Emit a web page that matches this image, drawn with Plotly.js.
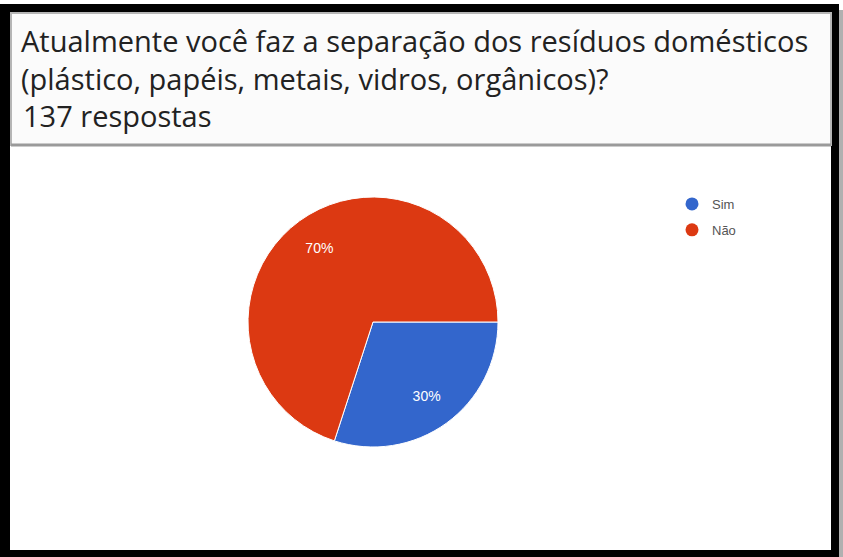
<!DOCTYPE html>
<html><head><meta charset="utf-8">
<script src="https://cdn.plot.ly/plotly-3.0.1.min.js"></script>
<style>html,body{margin:0;padding:0;background:#fff;} #chart{width:843px;height:557px;}</style>
</head><body><div id="chart"></div>
<script>
// ---- data ----
const questionLines = ["Atualmente você faz a separação dos resíduos domésticos", "(plástico, papéis, metais, vidros, orgânicos)?"];
const responsesLabel = "137 respostas";
const categories = ["Sim", "Não"];
const percentages = [30, 70];
const sliceColors = ["#3366cc", "#dc3912"];

// ---- layout helpers (pixel -> paper) ----
const W = 843, H = 557;
const px = x => x / W;
const py = y => 1 - y / H;
const pieDomain = {x: [px(248), px(498)], y: [py(447), py(197)]};

// full pie: slices with white separators
const pieTrace = {
  type: 'pie',
  labels: categories,
  values: percentages,
  marker: {colors: sliceColors, line: {color: '#ffffff', width: 1}},
  sort: false, direction: 'clockwise', rotation: 90,
  textinfo: 'none',
  showlegend: false,
  hoverinfo: 'label+percent',
  domain: pieDomain
};
// transparent ring on top that carries the percentage labels (places them toward the rim)
const labelRing = {
  type: 'pie',
  labels: categories,
  values: percentages,
  hole: 0.46,
  marker: {colors: ['rgba(0,0,0,0)', 'rgba(0,0,0,0)'], line: {width: 0}},
  sort: false, direction: 'clockwise', rotation: 90,
  textinfo: 'percent', textposition: 'inside', insidetextorientation: 'horizontal',
  textfont: {family: 'Liberation Sans, Arial, sans-serif', size: 14, color: '#ffffff'},
  showlegend: false, hoverinfo: 'skip',
  domain: pieDomain
};

const legendTraces = categories.map((c, i) => ({
  type: 'scatter', x: [null], y: [null], mode: 'markers', name: c,
  legendgroup: c, marker: {color: sliceColors[i], size: 13}, hoverinfo: 'skip'
}));

const textFont = {family: 'Open Sans, sans-serif', size: 29, color: '#222222'};

const layout = {
  width: W, height: H,
  margin: {l: 0, r: 0, t: 0, b: 0},
  paper_bgcolor: '#ffffff',
  plot_bgcolor: 'rgba(0,0,0,0)',
  xaxis: {visible: false},
  yaxis: {visible: false},
  title: {
    text: questionLines.join('<br>'),
    font: textFont,
    x: px(21), xref: 'paper', xanchor: 'left',
    y: 1 - 52 / H, yref: 'container', yanchor: 'middle'
  },
  annotations: [{
    text: responsesLabel, showarrow: false,
    xref: 'paper', yref: 'paper', x: px(21), xanchor: 'left', y: py(115), yanchor: 'middle',
    font: textFont
  }],
  showlegend: true,
  legend: {
    x: px(672), xanchor: 'left', y: py(189), yanchor: 'top',
    font: {family: 'Liberation Sans, Arial, sans-serif', size: 13, color: '#555555'},
    bgcolor: 'rgba(0,0,0,0)', traceorder: 'grouped', tracegroupgap: 6, itemwidth: 30
  },
  shapes: [
    {type: 'rect', xref: 'paper', yref: 'paper', x0: px(839), x1: 1, y0: 0, y1: py(10),
     fillcolor: '#b0b0b0', line: {width: 0}, layer: 'below'},
    {type: 'rect', xref: 'paper', yref: 'paper', x0: 0, x1: px(839), y0: 0, y1: py(4),
     fillcolor: '#000000', line: {width: 0}, layer: 'below'},
    {type: 'rect', xref: 'paper', yref: 'paper', x0: px(10), x1: px(831), y0: py(550), y1: py(12),
     fillcolor: '#ffffff', line: {width: 0}, layer: 'below'},
    {type: 'rect', xref: 'paper', yref: 'paper', x0: px(11), x1: px(831), y0: py(145), y1: py(13),
     fillcolor: '#fbfbfb', line: {color: '#b5b5b5', width: 2}, layer: 'below'},
    {type: 'line', xref: 'paper', yref: 'paper', x0: px(11), x1: px(831), y0: py(145), y1: py(145),
     line: {color: '#9a9a9a', width: 3}, layer: 'below'}
  ]
};

Plotly.newPlot('chart', [pieTrace, labelRing, ...legendTraces], layout, {displayModeBar: false});
</script>
</body></html>
